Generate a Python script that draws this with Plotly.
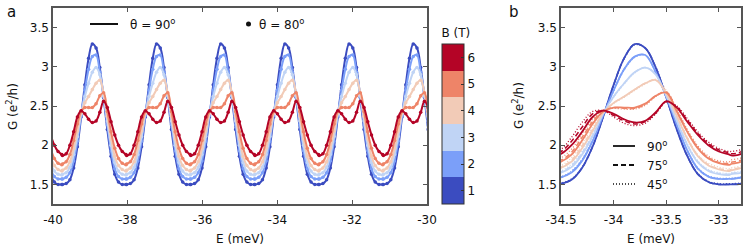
import numpy as np
import plotly.graph_objects as go

# magnetic field levels and their colours (coolwarm, 6 steps)
B_VALUES = [1, 2, 3, 4, 5, 6]
B_COLORS = ["#3b4cc0", "#7b9ff9", "#c0d4f5", "#f2cbb7", "#ee8468", "#b40426"]

# one oscillation period of G(E)
E_BASE = [-34.6, -34.5, -34.4, -34.3, -34.2, -34.1, -34.0, -33.9, -33.8,
          -33.7, -33.6, -33.5, -33.4, -33.3, -33.2, -33.1, -33.0, -32.9]
PERIOD = 1.716  # meV, spacing between peaks in panel a

G_90 = [
    [1.50, 1.51, 1.56, 1.71, 1.98, 2.36, 2.77, 3.11, 3.29, 3.24, 2.99, 2.61, 2.20, 1.86, 1.63, 1.53, 1.50, 1.50],
    [1.57, 1.59, 1.65, 1.80, 2.05, 2.38, 2.70, 2.97, 3.13, 3.15, 2.93, 2.62, 2.26, 1.93, 1.70, 1.60, 1.57, 1.57],
    [1.63, 1.65, 1.72, 1.88, 2.11, 2.40, 2.62, 2.79, 2.93, 2.99, 2.90, 2.63, 2.31, 2.00, 1.78, 1.67, 1.63, 1.62],
    [1.68, 1.71, 1.79, 1.96, 2.18, 2.41, 2.54, 2.62, 2.71, 2.79, 2.83, 2.66, 2.37, 2.08, 1.86, 1.74, 1.69, 1.67],
    [1.76, 1.79, 1.88, 2.06, 2.27, 2.43, 2.48, 2.48, 2.48, 2.53, 2.63, 2.67, 2.43, 2.17, 1.96, 1.83, 1.77, 1.75],
    [1.87, 1.89, 2.00, 2.17, 2.36, 2.44, 2.40, 2.33, 2.29, 2.31, 2.42, 2.56, 2.48, 2.30, 2.13, 2.00, 1.92, 1.88],
]
# theta = 80 deg dots sit on top of the 90 deg lines
G_80 = [
    [1.50, 1.51, 1.56, 1.71, 1.98, 2.36, 2.77, 3.11, 3.29, 3.24, 2.99, 2.61, 2.20, 1.86, 1.63, 1.53, 1.50, 1.50],
    [1.57, 1.59, 1.65, 1.80, 2.05, 2.38, 2.70, 2.97, 3.13, 3.15, 2.93, 2.62, 2.26, 1.93, 1.70, 1.60, 1.57, 1.57],
    [1.63, 1.65, 1.72, 1.88, 2.11, 2.40, 2.62, 2.79, 2.93, 2.99, 2.90, 2.63, 2.31, 2.00, 1.78, 1.67, 1.63, 1.62],
    [1.68, 1.71, 1.79, 1.96, 2.18, 2.41, 2.54, 2.62, 2.71, 2.79, 2.83, 2.66, 2.37, 2.08, 1.86, 1.74, 1.69, 1.67],
    [1.76, 1.79, 1.88, 2.06, 2.27, 2.43, 2.48, 2.48, 2.48, 2.53, 2.63, 2.67, 2.43, 2.17, 1.96, 1.83, 1.77, 1.75],
    [1.87, 1.89, 2.00, 2.17, 2.36, 2.44, 2.40, 2.33, 2.29, 2.31, 2.42, 2.56, 2.48, 2.30, 2.13, 2.00, 1.92, 1.88],
]
G_75 = [
    [1.50, 1.51, 1.56, 1.71, 1.98, 2.36, 2.77, 3.11, 3.29, 3.24, 2.99, 2.61, 2.20, 1.86, 1.63, 1.53, 1.50, 1.50],
    [1.57, 1.59, 1.66, 1.81, 2.06, 2.38, 2.70, 2.97, 3.13, 3.15, 2.93, 2.62, 2.26, 1.93, 1.70, 1.60, 1.57, 1.57],
    [1.64, 1.66, 1.74, 1.90, 2.13, 2.40, 2.62, 2.79, 2.93, 2.99, 2.91, 2.64, 2.32, 2.01, 1.79, 1.68, 1.64, 1.63],
    [1.69, 1.72, 1.81, 1.99, 2.20, 2.41, 2.54, 2.62, 2.71, 2.79, 2.83, 2.68, 2.38, 2.09, 1.87, 1.75, 1.70, 1.68],
    [1.78, 1.81, 1.91, 2.10, 2.30, 2.44, 2.48, 2.47, 2.47, 2.52, 2.63, 2.68, 2.44, 2.18, 1.97, 1.84, 1.78, 1.77],
    [1.89, 1.92, 2.05, 2.23, 2.40, 2.44, 2.38, 2.31, 2.27, 2.30, 2.41, 2.56, 2.49, 2.32, 2.15, 2.02, 1.94, 1.90],
]
G_45 = [
    [1.51, 1.52, 1.57, 1.72, 1.99, 2.36, 2.76, 3.10, 3.28, 3.24, 3.00, 2.62, 2.21, 1.87, 1.64, 1.54, 1.51, 1.51],
    [1.58, 1.60, 1.67, 1.82, 2.07, 2.38, 2.69, 2.96, 3.12, 3.15, 2.94, 2.63, 2.27, 1.94, 1.71, 1.61, 1.58, 1.58],
    [1.65, 1.67, 1.76, 1.92, 2.15, 2.41, 2.61, 2.78, 2.92, 2.99, 2.92, 2.66, 2.33, 2.02, 1.80, 1.69, 1.65, 1.64],
    [1.71, 1.74, 1.84, 2.02, 2.23, 2.42, 2.53, 2.61, 2.70, 2.78, 2.84, 2.70, 2.40, 2.10, 1.88, 1.77, 1.72, 1.70],
    [1.81, 1.84, 1.95, 2.14, 2.33, 2.45, 2.47, 2.46, 2.46, 2.51, 2.62, 2.68, 2.46, 2.20, 1.99, 1.86, 1.80, 1.79],
    [1.92, 1.95, 2.10, 2.29, 2.43, 2.44, 2.36, 2.28, 2.25, 2.28, 2.40, 2.55, 2.50, 2.34, 2.17, 2.04, 1.96, 1.92],
]

# tick labels (plain hyphen minus, as in the original)
XA_TICKS = [-40, -38, -36, -34, -32, -30]
XA_LABELS = ["-40", "-38", "-36", "-34", "-32", "-30"]
XB_TICKS = [-34.5, -34, -33.5, -33]
XB_LABELS = ["-34.5", "-34", "-33.5", "-33"]
Y_TICKS = [1.5, 2, 2.5, 3, 3.5]
Y_LABELS = ["1.5", "2", "2.5", "3", "3.5"]

FONT = "DejaVu Sans"
W, H = 747, 249


def tile(values, copies=range(-4, 3)):
    """Repeat one period of data along the energy axis."""
    x = np.concatenate([np.array(E_BASE) + k * PERIOD for k in copies])
    y = np.tile(values, len(copies))
    return x, y


fig = go.Figure()

# panel a: 90 deg lines and 80 deg dots
for i, b in enumerate(B_VALUES):
    x, y = tile(G_90[i])
    fig.add_trace(go.Scatter(x=x, y=y, mode="lines", line=dict(color=B_COLORS[i], width=2, shape="spline"),
                             xaxis="x", yaxis="y", showlegend=False))
    x, y = tile(G_80[i])
    fig.add_trace(go.Scatter(x=x, y=y, mode="markers", marker=dict(color=B_COLORS[i], size=3.5),
                             xaxis="x", yaxis="y", showlegend=False))

# panel b: three angles
for dash, data, width in [("dot", G_45, 1.3), ("5px,3px", G_75, 1.5), ("solid", G_90, 1.8)]:
    for i, b in enumerate(B_VALUES):
        x, y = tile(data[i], copies=range(0, 2))
        dash_style = "1px,2px" if dash == "dot" else dash
        fig.add_trace(go.Scatter(x=x, y=y, mode="lines",
                                 line=dict(color=B_COLORS[i], width=width, dash=dash_style, shape="spline"),
                                 xaxis="x2", yaxis="y2", showlegend=False))

# hidden trace carrying the discrete B colour bar
scale = []
for i, c in enumerate(B_COLORS):
    scale += [[i / 6, c], [(i + 1) / 6, c]]
fig.add_trace(go.Scatter(
    x=[-50] * 6, y=[0] * 6, mode="markers", xaxis="x", yaxis="y", showlegend=False,
    marker=dict(color=B_VALUES, colorscale=scale, cmin=0.5, cmax=6.5, size=1, showscale=True,
                colorbar=dict(
                    x=442 / W, xanchor="left", xpad=0, y=(H - 204) / H, yanchor="bottom", ypad=0,
                    thickness=22, thicknessmode="pixels", len=179, lenmode="pixels",
                    outlinewidth=1, outlinecolor="#333",
                    ticks="inside", ticklen=3, tickcolor="#333",
                    tickvals=B_VALUES, ticktext=[str(b) for b in B_VALUES],
                    tickfont=dict(family=FONT, size=12, color="#111"),
                    title=dict(text="B (T)", side="top", font=dict(family=FONT, size=12, color="#111")),
                )),
))

axis_style = dict(showline=True, linecolor="#555", linewidth=1.5, mirror="ticks", ticks="inside",
                  ticklen=4, tickcolor="#555", showgrid=False, zeroline=False, automargin=False,
                  tickfont=dict(family=FONT, size=12, color="#111"))

fig.update_layout(
    width=W, height=H, margin=dict(l=0, r=0, t=0, b=0, autoexpand=False),
    paper_bgcolor="white", plot_bgcolor="white",
    font=dict(family=FONT, size=12, color="#111"),
    xaxis=dict(domain=[53 / W, 427 / W], range=[-40, -30], tickvals=XA_TICKS, ticktext=XA_LABELS,
               anchor="y", ticklabelstandoff=4, **axis_style),
    yaxis=dict(domain=[(H - 204) / H, (H - 8) / H], range=[1.25, 3.75], tickvals=Y_TICKS,
               ticktext=Y_LABELS, anchor="x", **axis_style),
    xaxis2=dict(domain=[561 / W, 741 / W], range=[-34.5, -32.79], tickvals=XB_TICKS, ticktext=XB_LABELS,
                anchor="y2", ticklabelstandoff=4, **axis_style),
    yaxis2=dict(domain=[(H - 204) / H, (H - 8) / H], range=[1.25, 3.75], tickvals=Y_TICKS,
                ticktext=Y_LABELS, anchor="x2", **axis_style),
)


def px_x(p):
    return p / W


def px_y(p):
    return 1 - p / H


annotations = [
    dict(text="a", x=px_x(12), y=px_y(12), font=dict(size=15)),
    dict(text="b", x=px_x(514), y=px_y(12), font=dict(size=15)),
    dict(text="G (e<sup>2</sup>/h)", x=px_x(12), y=px_y(106), textangle=-90),
    dict(text="G (e<sup>2</sup>/h)", x=px_x(518), y=px_y(106), textangle=-90),
    dict(text="E (meV)", x=px_x(240), y=px_y(239)),
    dict(text="E (meV)", x=px_x(651), y=px_y(239)),
    dict(text="θ = 90<sup>o</sup>", x=px_x(128), y=px_y(24), xanchor="left"),
    dict(text="θ = 80<sup>o</sup>", x=px_x(257), y=px_y(24), xanchor="left"),
    dict(text="90<sup>o</sup>", x=px_x(645), y=px_y(146), xanchor="left"),
    dict(text="75<sup>o</sup>", x=px_x(645), y=px_y(165), xanchor="left"),
    dict(text="45<sup>o</sup>", x=px_x(645), y=px_y(184), xanchor="left"),
]
for a in annotations:
    a.setdefault("xanchor", "center")
    fig.add_annotation(xref="paper", yref="paper", yanchor="middle", showarrow=False, **a)

# legend glyphs
shapes = [
    dict(type="line", x0=px_x(90), x1=px_x(118), y0=px_y(24), y1=px_y(24), line=dict(color="#111", width=2)),
    dict(type="circle", x0=px_x(246), x1=px_x(251), y0=px_y(21.5), y1=px_y(26.5),
         line=dict(color="#111", width=0), fillcolor="#111"),
    dict(type="line", x0=px_x(613), x1=px_x(635), y0=px_y(146), y1=px_y(146), line=dict(color="#111", width=1.8)),
    dict(type="line", x0=px_x(613), x1=px_x(636), y0=px_y(165), y1=px_y(165),
         line=dict(color="#111", width=1.8, dash="5px,3px")),
    dict(type="line", x0=px_x(613), x1=px_x(635), y0=px_y(184), y1=px_y(184),
         line=dict(color="#111", width=1.3, dash="1px,2px")),
]
for s in shapes:
    fig.add_shape(xref="paper", yref="paper", **s)

# the page body keeps a default 8px margin; remove it so the figure fills the window
fig.write_html("out.html", config={"displayModeBar": False},
               post_script="document.body.style.margin = '0px';")
